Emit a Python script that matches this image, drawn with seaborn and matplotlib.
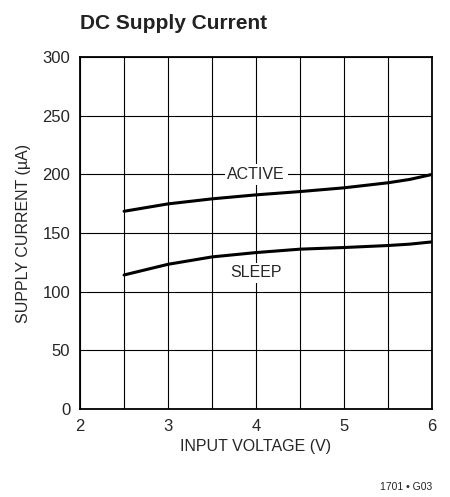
import numpy as np
import pandas as pd
import matplotlib
matplotlib.use("Agg")
import matplotlib.pyplot as plt
import seaborn as sns

# ---- data ----
voltage = [2.5, 3.0, 3.5, 4.0, 4.5, 5.0, 5.5, 5.75, 6.0]
active_ua = [168.6, 174.9, 179.2, 182.6, 185.4, 188.6, 192.9, 195.8, 200.0]
sleep_ua = [114.3, 123.4, 129.7, 133.4, 136.3, 137.7, 139.4, 140.6, 142.5]
x_ticks = [2, 3, 4, 5, 6]
y_ticks = [0, 50, 100, 150, 200, 250, 300]

df = pd.concat([
    pd.DataFrame({"v": voltage, "i": active_ua, "mode": "ACTIVE"}),
    pd.DataFrame({"v": voltage, "i": sleep_ua, "mode": "SLEEP"}),
])

sns.set_style("white")
plt.rcParams['font.family'] = ['Liberation Sans Narrow', 'Liberation Sans', 'DejaVu Sans']

fig = plt.figure(figsize=(4.5, 4.97), dpi=100)
ax = fig.add_axes([0.178, 0.177, 0.782, 0.708])

sns.lineplot(data=df, x="v", y="i", units="mode", estimator=None,
             color="black", linewidth=2.2, ax=ax, legend=False)

ax.set_xlim(2, 6)
ax.set_ylim(0, 300)
ax.set_xticks(x_ticks)
ax.set_yticks(y_ticks)
ax.set_xticks(np.arange(2, 6.01, 0.5), minor=True)
ax.grid(True, which="both", axis="x", color="black", linewidth=0.8)
ax.grid(True, which="major", axis="y", color="black", linewidth=0.8)
ax.tick_params(which="both", length=0, labelsize=12, pad=7)
for s in ax.spines.values():
    s.set_color("black")
    s.set_linewidth(1.3)
    s.set_visible(True)

ax.set_xlabel("INPUT VOLTAGE (V)", fontsize=11.5, labelpad=4)
ax.set_ylabel("SUPPLY CURRENT (\u00b5A)", fontsize=11.5, labelpad=8)

ax.text(4.0, 200, "ACTIVE", ha="center", va="center", fontsize=11.5,
        bbox=dict(facecolor="white", edgecolor="none", pad=2))
ax.text(4.0, 116, "SLEEP", ha="center", va="center", fontsize=11.5,
        bbox=dict(facecolor="white", edgecolor="none", pad=2))

fig.text(0.178, 0.953, "DC Supply Current", fontsize=15, fontweight="bold",
         ha="left", va="center", color="#222222")
fig.text(0.96, 0.02, "1701 \u2022 G03", fontsize=7.5, ha="right", va="center")

fig.savefig("out.png", dpi=100)
